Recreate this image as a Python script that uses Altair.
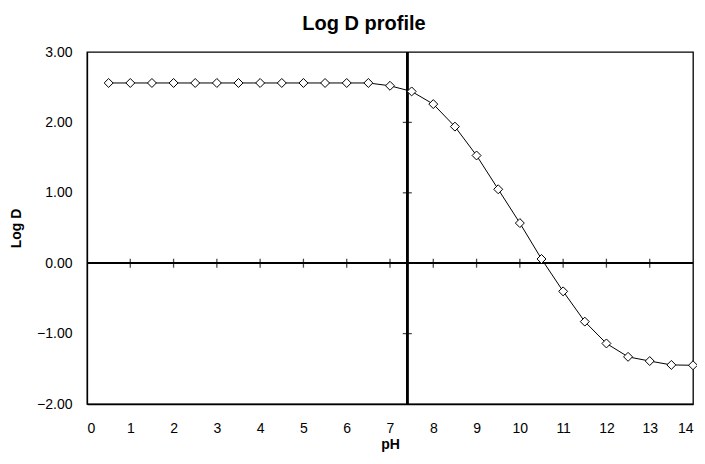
import altair as alt
import pandas as pd

ph = [0.5, 1.0, 1.5, 2.0, 2.5, 3.0, 3.5, 4.0, 4.5, 5.0, 5.5, 6.0, 6.5, 7.0,
      7.5, 8.0, 8.5, 9.0, 9.5, 10.0, 10.5, 11.0, 11.5, 12.0, 12.5, 13.0, 13.5, 14.0]
logd = [2.56, 2.56, 2.56, 2.56, 2.56, 2.56, 2.56, 2.56, 2.56, 2.56, 2.56, 2.56, 2.56, 2.52,
        2.44, 2.26, 1.94, 1.53, 1.05, 0.57, 0.06, -0.40, -0.83, -1.14, -1.33, -1.39, -1.445, -1.45]

x_ticks = list(range(0, 15))
y_ticks = [-2, -1, 0, 1, 2, 3]
zero_line_ticks = list(range(1, 14))
ph74_ticks = [-1, 1, 2]
ph_ref = 7.4

df = pd.DataFrame({"pH": ph, "LogD": logd})
xt_df = pd.DataFrame({"t": zero_line_ticks})
yt_df = pd.DataFrame({"t": ph74_ticks})

FONT = "Liberation Sans"

xscale = alt.Scale(domain=[0, 14], nice=False, zero=False)
yscale = alt.Scale(domain=[-2, 3], nice=False, zero=False)

xaxis = alt.Axis(values=x_ticks, title="pH", ticks=False, grid=False, labelPadding=17,
                 titlePadding=2, format="d")
yaxis = alt.Axis(values=y_ticks, title="Log D", ticks=False, grid=False, labelPadding=15,
                 titlePadding=13, format=".2f")

line = alt.Chart(df).mark_line(color="black", strokeWidth=1).encode(
    x=alt.X("pH:Q", scale=xscale, axis=xaxis),
    y=alt.Y("LogD:Q", scale=yscale, axis=yaxis),
)

points = alt.Chart(df).mark_point(shape="diamond", filled=True, fill="white",
                                  stroke="black", strokeWidth=1, size=80, opacity=1).encode(
    x=alt.X("pH:Q", scale=xscale),
    y=alt.Y("LogD:Q", scale=yscale),
)

zero_rule = alt.Chart(df).mark_rule(color="black", strokeWidth=1.5).encode(
    y=alt.datum(0, scale=yscale),
)

ph_rule = alt.Chart(df).mark_rule(color="black", strokeWidth=1.5).encode(
    x=alt.datum(ph_ref, scale=xscale),
)

x_cross = alt.Chart(xt_df).mark_tick(orient="vertical", color="black", thickness=1.3, size=9).encode(
    x=alt.X("t:Q", scale=xscale),
    y=alt.datum(0, scale=yscale),
)

y_cross = alt.Chart(yt_df).mark_tick(orient="horizontal", color="black", thickness=1.3, size=9).encode(
    y=alt.Y("t:Q", scale=yscale),
    x=alt.datum(ph_ref, scale=xscale),
)

chart = alt.layer(zero_rule, ph_rule, x_cross, y_cross, line, points).properties(
    width=606,
    height=352,
    title=alt.TitleParams("Log D profile", font=FONT, fontSize=20, fontWeight="bold",
                          anchor="middle", dx=-26, offset=11, color="black"),
    autosize=alt.AutoSizeParams(type="none"),
    padding={"left": 79, "top": 44, "right": 4, "bottom": 48},
    background="white",
).configure_view(
    stroke="black", strokeWidth=1.3, fill="white"
).configure_axis(
    domainColor="black", domainWidth=1.3, labelColor="black", labelFont=FONT, labelFontSize=14,
    titleFont=FONT, titleFontSize=14, titleFontWeight="bold", titleColor="black",
)

chart.save("out.html", embed_options={"renderer": "svg", "actions": False})
